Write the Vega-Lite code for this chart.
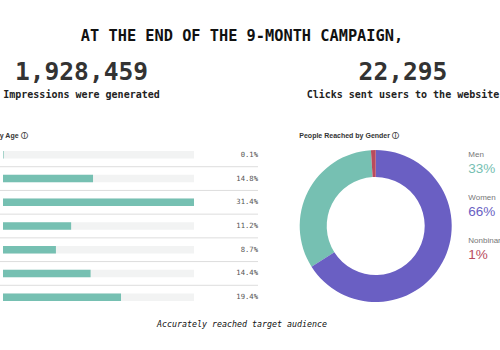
{
  "$schema": "https://vega.github.io/schema/vega-lite/v6.json",
  "autosize": {"type": "none"},
  "padding": {"left": 0, "top": 0, "right": 500, "bottom": 350},
  "background": "white",
  "config": {"view": {"stroke": null}},
  "datasets": {
    "headline": [{"text": "AT THE END OF THE 9-MONTH CAMPAIGN,"}],
    "stats": [
      {"metric": "Impressions", "value": 1928459, "label": "Impressions were generated"},
      {"metric": "Clicks", "value": 22295, "label": "Clicks sent users to the website"}
    ],
    "age": [
      {"age": "13-17", "pct": 0.001},
      {"age": "18-24", "pct": 0.148},
      {"age": "25-34", "pct": 0.314},
      {"age": "35-44", "pct": 0.112},
      {"age": "45-54", "pct": 0.087},
      {"age": "55-64", "pct": 0.144},
      {"age": "65+", "pct": 0.194}
    ],
    "gender": [
      {"gender": "Men", "pct": 0.33},
      {"gender": "Women", "pct": 0.66},
      {"gender": "Nonbinary", "pct": 0.01}
    ],
    "caption": [{"text": "Accurately reached target audience"}]
  },
  "columns": 2,
  "align": {"row": "each", "column": "each"},
  "bounds": "flush",
  "spacing": {"row": 0, "column": 41.3},
  "concat": [
    {
      "width": 163,
      "height": 143,
      "layer": [
        {
          "data": {"name": "headline"},
          "mark": {"type": "text", "font": "DejaVu Sans Mono", "fontSize": 15.3, "fontWeight": "bold", "color": "#111111", "baseline": "middle", "dx": 160.5, "dy": -35.8},
          "encoding": {"text": {"field": "text"}}
        },
        {
          "data": {"name": "stats"},
          "transform": [{"filter": "datum.metric === 'Impressions'"}],
          "mark": {"type": "text", "font": "DejaVu Sans Mono", "fontSize": 24.6, "fontWeight": "bold", "color": "#333333", "baseline": "middle", "dy": 1.4},
          "encoding": {"text": {"field": "value", "format": ","}}
        },
        {
          "data": {"name": "stats"},
          "transform": [{"filter": "datum.metric === 'Impressions'"}],
          "mark": {"type": "text", "font": "DejaVu Sans Mono", "fontSize": 10, "fontWeight": "bold", "color": "#222222", "baseline": "middle", "dy": 23.5},
          "encoding": {"text": {"field": "label"}}
        }
      ]
    },
    {
      "width": 207.4,
      "height": 143,
      "data": {"name": "stats"},
      "transform": [{"filter": "datum.metric === 'Clicks'"}],
      "layer": [
        {"mark": {"type": "text", "font": "DejaVu Sans Mono", "fontSize": 24.6, "fontWeight": "bold", "color": "#333333", "baseline": "middle", "dy": 1.4},
         "encoding": {"text": {"field": "value", "format": ","}}},
        {"mark": {"type": "text", "font": "DejaVu Sans Mono", "fontSize": 10, "fontWeight": "bold", "color": "#222222", "baseline": "middle", "dy": 23.5},
         "encoding": {"text": {"field": "label"}}}
      ]
    },
    {
      "width": 258,
      "height": 166,
      "data": {"name": "age"},
      "title": {"text": "People Reached by Age ⓘ", "anchor": "start", "dx": -60, "offset": -1.5, "baseline": "alphabetic", "font": "Liberation Sans", "fontSize": 7, "fontWeight": "bold", "color": "#333333"},
      "encoding": {
        "y": {"field": "age", "type": "nominal", "sort": null, "axis": null, "scale": {"paddingInner": 0, "paddingOuter": 0}}
      },
      "layer": [
        {
          "mark": {"type": "bar", "height": 7.5, "color": "#f2f3f3"},
          "encoding": {
            "x": {"datum": 0, "type": "quantitative", "scale": {"domain": [0, 0.314], "range": [3, 194], "nice": false, "zero": false}, "axis": null},
            "x2": {"datum": 0.314}
          }
        },
        {
          "mark": {"type": "bar", "height": 7.5, "color": "#76c0b2"},
          "encoding": {
            "x": {"field": "pct", "type": "quantitative", "axis": null}
          }
        },
        {
          "transform": [{"filter": "datum.age !== '65+'"}],
          "mark": {"type": "rule", "color": "#dddddd", "strokeWidth": 1},
          "encoding": {
            "y": {"field": "age", "type": "nominal", "sort": null, "bandPosition": 1}
          }
        },
        {
          "mark": {"type": "text", "align": "right", "baseline": "middle", "font": "DejaVu Sans Mono", "fontSize": 7.2, "color": "#555555"},
          "encoding": {
            "x": {"value": "width"},
            "text": {"field": "pct", "format": ".1%"}
          }
        }
      ]
    },
    {
      "width": 152.8,
      "height": 166,
      "data": {"name": "gender"},
      "title": {"text": "People Reached by Gender ⓘ", "anchor": "start", "offset": -1.5, "baseline": "alphabetic", "font": "Liberation Sans", "fontSize": 7, "fontWeight": "bold", "color": "#333333"},
      "layer": [
        {
          "mark": {"type": "arc", "radius": 76, "radius2": 49},
          "encoding": {
            "theta": {"field": "pct", "type": "quantitative", "stack": true},
            "order": {"field": "pct", "sort": "descending"},
            "color": {"field": "gender", "type": "nominal", "legend": null,
              "scale": {"domain": ["Men", "Women", "Nonbinary"], "range": ["#76c0b2", "#6a5fc3", "#b94b5d"]}}
          }
        },
        {
          "mark": {"type": "text", "align": "left", "baseline": "middle", "font": "Liberation Sans", "fontSize": 8, "color": "#777777", "dx": 92.6, "dy": -10},
          "encoding": {
            "y": {"field": "gender", "type": "nominal", "sort": null, "axis": null, "scale": {"type": "band", "paddingInner": 0, "paddingOuter": 0.43, "align": 0}},
            "text": {"field": "gender"}
          }
        },
        {
          "mark": {"type": "text", "align": "left", "baseline": "middle", "font": "Liberation Sans", "fontSize": 13.5, "dx": 92.6, "dy": 4},
          "encoding": {
            "y": {"field": "gender", "type": "nominal", "sort": null, "axis": null},
            "text": {"field": "pct", "format": ".0%"},
            "color": {"field": "gender", "type": "nominal", "legend": null}
          }
        }
      ]
    },
    {
      "width": 258,
      "height": 32,
      "data": {"name": "caption"},
      "mark": {"type": "text", "font": "DejaVu Sans Mono", "fontSize": 8.3, "fontStyle": "italic", "color": "#111111", "baseline": "middle", "dx": 113},
      "encoding": {"text": {"field": "text"}}
    }
  ]
}
